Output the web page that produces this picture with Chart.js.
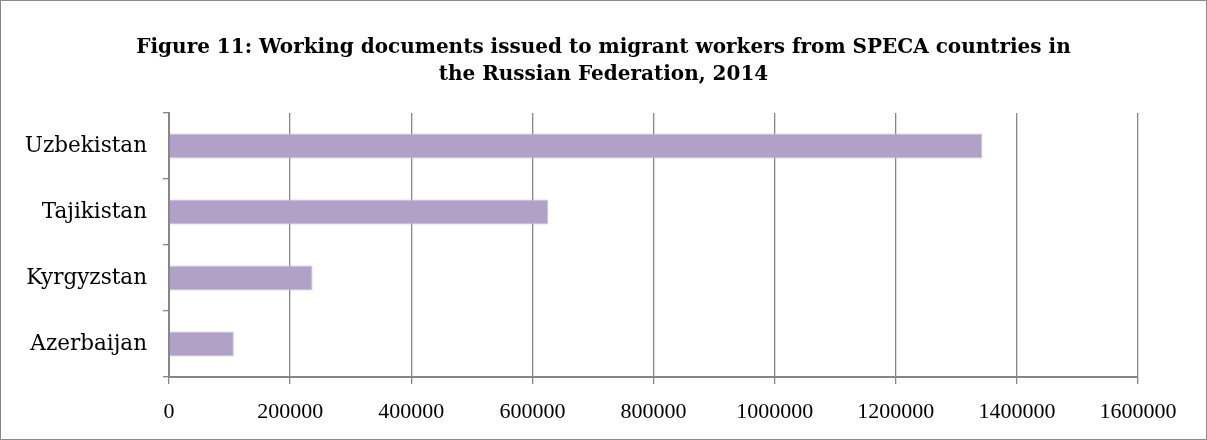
<!DOCTYPE html>
<html>
<head>
<meta charset="utf-8">
<script src="https://cdn.jsdelivr.net/npm/chart.js@4/dist/chart.umd.min.js"></script>
<style>
  html, body { margin: 0; padding: 0; background: #fff; }
  #wrap { width: 1207px; height: 440px; box-sizing: border-box; border: 1px solid #8a8a8a; position: relative; background: #fff; }
  #c { display: block; }
</style>
</head>
<body>
<div id="wrap"><canvas id="c" width="1205" height="438"></canvas></div>
<script>
const titleLines = ["Figure 11: Working documents issued to migrant workers from SPECA countries in", "the Russian Federation, 2014"];
const categories = ["Uzbekistan", "Tajikistan", "Kyrgyzstan", "Azerbaijan"];
const documentsIssued = [1343000, 626000, 237000, 107000];
const xTickValues = [0, 200000, 400000, 600000, 800000, 1000000, 1200000, 1400000, 1600000];

const TEXT_FONT = "'DejaVu Serif', 'Liberation Serif', serif";
const NUM_FONT = "'Liberation Serif', 'Times New Roman', serif";
const axisColor = '#868686';

const centeredTitle = {
  id: 'centeredTitle',
  afterDraw(chart) {
    const ctx = chart.ctx;
    ctx.save();
    ctx.fillStyle = '#000';
    ctx.font = "bold 20px " + TEXT_FONT;
    ctx.textAlign = 'center';
    ctx.textBaseline = 'middle';
    const cx = chart.width / 2;
    titleLines.forEach((line, i) => ctx.fillText(line, cx, 47 + i * 27));
    ctx.restore();
  }
};

new Chart(document.getElementById('c'), {
  type: 'bar',
  data: {
    labels: categories,
    datasets: [{
      data: documentsIssued,
      backgroundColor: '#b1a0c7',
      borderColor: '#c9bdd9',
      borderWidth: 1,
      barPercentage: 1,
      categoryPercentage: 0.38
    }]
  },
  plugins: [centeredTitle],
  options: {
    indexAxis: 'y',
    responsive: false,
    animation: false,
    layout: { padding: { left: 0, right: 68, top: 112, bottom: 0 } },
    plugins: {
      legend: { display: false },
      tooltip: { enabled: false },
      title: { display: false }
    },
    scales: {
      x: {
        min: 0, max: 1600000,
        afterBuildTicks: (s) => { s.ticks = xTickValues.map(v => ({ value: v })); },
        afterFit: (s) => { s.height = 62; },
        grid: { color: axisColor, lineWidth: 1.3, tickLength: 7, drawTicks: true },
        border: { color: axisColor, width: 2 },
        ticks: {
          color: '#000',
          font: { family: NUM_FONT, size: 22 },
          padding: 15,
          maxRotation: 0,
          autoSkip: false,
          callback: (v) => String(v)
        }
      },
      y: {
        afterFit: (s) => { s.width = 168; },
        grid: { drawOnChartArea: false, drawTicks: true, tickLength: 6, offset: true, color: axisColor, lineWidth: 1.3 },
        border: { color: axisColor, width: 2 },
        ticks: {
          color: '#000',
          font: { family: TEXT_FONT, size: 21.5 },
          padding: 16
        }
      }
    }
  }
});
</script>
</body>
</html>
